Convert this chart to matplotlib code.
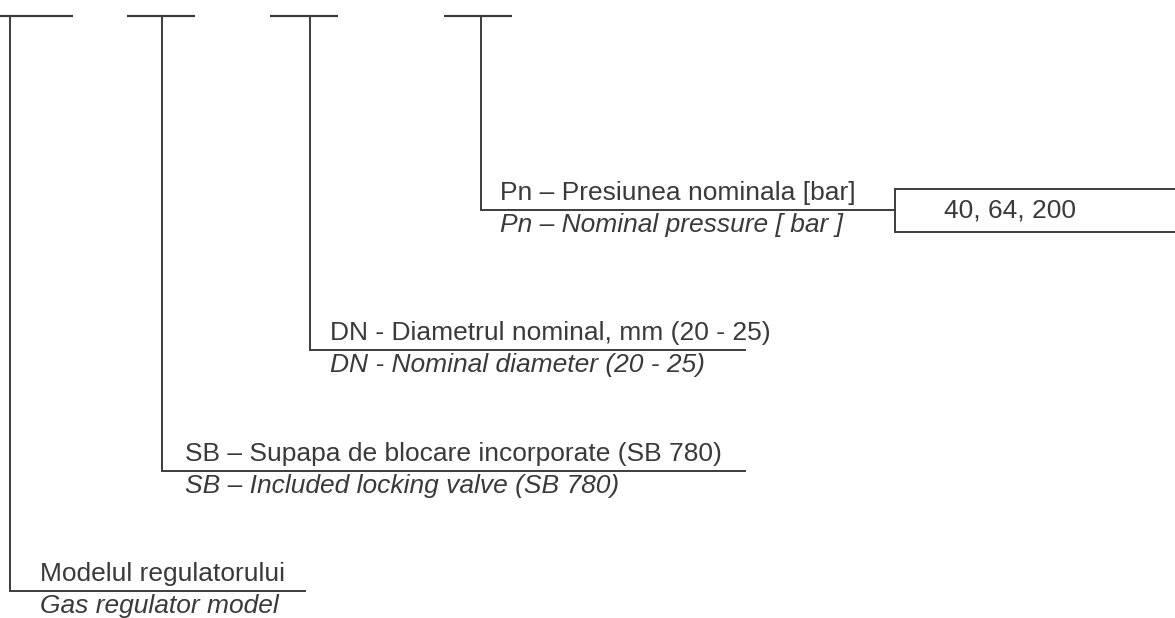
"""Schema de codificare a regulatorului de gaz."""
import matplotlib.pyplot as plt

# Etichete (romana / engleza), de jos in sus
main_labels = [
    "Modelul regulatorului",
    "SB \u2013 Supapa de blocare incorporate (SB 780)",
    "DN - Diametrul nominal, mm (20 - 25)",
    "Pn \u2013 Presiunea nominala [bar]",
]
italic_labels = [
    "Gas regulator model",
    "SB \u2013 Included locking valve (SB 780)",
    "DN - Nominal diameter (20 - 25)",
    "Pn \u2013 Nominal pressure [ bar ]",
]
box_label = "40, 64, 200"

# Geometrie in pixeli
bar_y = 16
bars = [(0, 73), (127, 195), (270, 338), (444, 512)]
stem_x = [10, 162, 310, 481]
level_y = [591, 471, 350, 210]
line_end = [305, 745, 745, 895]
text_x = [40, 185, 330, 500]
box = (895, 1180, 189, 232)

LINE = "#3c3c3c"
TEXT = "#3a3a3a"
FS = 19

fig = plt.figure(figsize=(11.75, 6.18), dpi=100)
ax = fig.add_axes([0, 0, 1, 1])
ax.set_xlim(0, 1175)
ax.set_ylim(618, 0)
ax.axis("off")

for (x0, x1), sx, ly, le in zip(bars, stem_x, level_y, line_end):
    ax.plot([x0, x1], [bar_y, bar_y], color=LINE, lw=1.6, solid_capstyle="butt")
    ax.plot([sx, sx, le], [bar_y, ly, ly], color=LINE, lw=1.4,
            solid_joinstyle="miter")

for tx, ly, m, it in zip(text_x, level_y, main_labels, italic_labels):
    ax.text(tx, ly - 10, m, fontsize=FS, family="Liberation Sans",
            color=TEXT, va="baseline", ha="left")
    ax.text(tx, ly + 22, it, fontsize=FS, family="Liberation Sans",
            style="italic", color=TEXT, va="baseline", ha="left")

bx0, bx1, by0, by1 = box
ax.plot([bx1, bx0, bx0, bx1], [by0, by0, by1, by1], color=LINE, lw=1.4,
        solid_joinstyle="miter")
ax.text(1010, (by0 + by1) / 2, box_label, fontsize=FS,
        family="Liberation Sans", color=TEXT, va="center", ha="center")

fig.savefig("out.png", dpi=100, facecolor="white")
plt.close(fig)
